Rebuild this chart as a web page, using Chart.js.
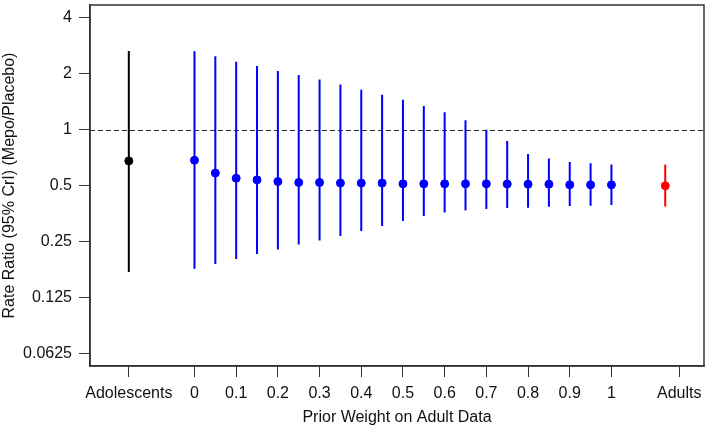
<!DOCTYPE html>
<html>
<head>
<meta charset="utf-8">
<script src="https://cdn.jsdelivr.net/npm/chart.js@4"></script>
<style>
  html, body { margin: 0; padding: 0; background: #fff; }
  #wrap { width: 709px; height: 427px; }
</style>
</head>
<body>
<div id="wrap"><canvas id="chart" width="709" height="427"></canvas></div>
<script>
// data
const weights = [0, 0.05, 0.1, 0.15, 0.2, 0.25, 0.3, 0.35, 0.4, 0.45, 0.5,
                 0.55, 0.6, 0.65, 0.7, 0.75, 0.8, 0.85, 0.9, 0.95, 1];
const blueMed = [0.686, 0.585, 0.549, 0.538, 0.527, 0.521, 0.521, 0.517, 0.517, 0.517, 0.512,
                 0.512, 0.512, 0.512, 0.512, 0.511, 0.51, 0.51, 0.506, 0.506, 0.506];
const blueLo = [0.179, 0.190, 0.202, 0.215, 0.227, 0.242, 0.254, 0.269, 0.286, 0.304, 0.323,
                0.344, 0.359, 0.368, 0.375, 0.380, 0.381, 0.386, 0.389, 0.390, 0.394];
const blueHi = [2.64, 2.48, 2.32, 2.20, 2.07, 1.97, 1.86, 1.75, 1.64, 1.54, 1.45,
                1.34, 1.24, 1.125, 1.0, 0.87, 0.74, 0.70, 0.672, 0.66, 0.65];

const adolX = -0.1575, adolMed = 0.68, adolLo = 0.172, adolHi = 2.65;
const adultX = 1.129, adultMed = 0.50, adultLo = 0.387, adultHi = 0.65;

const xTickVals = [-0.1575, 0, 0.1, 0.2, 0.3, 0.4, 0.5, 0.6, 0.7, 0.8, 0.9, 1, 1.1625];
const xTickLabels = ['Adolescents', '0', '0.1', '0.2', '0.3', '0.4', '0.5', '0.6', '0.7', '0.8', '0.9', '1', 'Adults'];
const yTickVals = [0.0625, 0.125, 0.25, 0.5, 1, 2, 4];
const yTickLabels = ['0.0625', '0.125', '0.25', '0.5', '1', '2', '4'];

// vertical interval segments, broken by null points
function segments(xs, los, his) {
    const out = [];
    xs.forEach((x, i) => {
        out.push({ x: x, y: los[i] }, { x: x, y: his[i] }, { x: x, y: null });
    });
    return out;
}

const axisColor = '#333';
const font = { family: 'Liberation Sans, Arial, sans-serif', size: 16 };

// box around the plot + dashed line at 1
const extras = {
    id: 'extras',
    beforeDatasetsDraw(chart) {
        const { ctx, chartArea: a, scales } = chart;
        const y1 = scales.y.getPixelForValue(1);
        ctx.save();
        ctx.strokeStyle = '#333';
        ctx.lineWidth = 1;
        ctx.setLineDash([5, 3]);
        ctx.beginPath();
        ctx.moveTo(a.left, Math.round(y1) + 0.5);
        ctx.lineTo(a.right, Math.round(y1) + 0.5);
        ctx.stroke();
        ctx.restore();
    },
    afterDraw(chart) {
        const { ctx, chartArea: a } = chart;
        ctx.save();
        ctx.strokeStyle = axisColor;
        ctx.lineWidth = 1.5;
        ctx.strokeRect(a.left, a.top, a.right - a.left, a.bottom - a.top);
        ctx.restore();
    }
};

new Chart(document.getElementById('chart'), {
    type: 'scatter',
    data: {
        datasets: [
            {
                type: 'line',
                data: segments([adolX], [adolLo], [adolHi]),
                borderColor: '#000', borderWidth: 2, pointRadius: 0, spanGaps: false
            },
            {
                type: 'line',
                data: segments(weights, blueLo, blueHi),
                borderColor: '#0000ff', borderWidth: 2, pointRadius: 0, spanGaps: false
            },
            {
                type: 'line',
                data: segments([adultX], [adultLo], [adultHi]),
                borderColor: '#ff0000', borderWidth: 2, pointRadius: 0, spanGaps: false
            },
            {
                data: [{ x: adolX, y: adolMed }],
                backgroundColor: '#000', borderColor: '#000', pointRadius: 4
            },
            {
                data: weights.map((w, i) => ({ x: w, y: blueMed[i] })),
                backgroundColor: '#0000ff', borderColor: '#0000ff', pointRadius: 4
            },
            {
                data: [{ x: adultX, y: adultMed }],
                backgroundColor: '#ff0000', borderColor: '#ff0000', pointRadius: 4
            }
        ]
    },
    options: {
        responsive: false,
        animation: false,
        layout: { padding: { top: 1, right: 2, left: 0, bottom: 0 } },
        plugins: { legend: { display: false }, tooltip: { enabled: false } },
        scales: {
            x: {
                type: 'linear',
                min: -0.2506,
                max: 1.222,
                afterBuildTicks: (s) => { s.ticks = xTickVals.map(v => ({ value: v })); },
                afterFit: (s) => { s.height = 61; s.paddingLeft = 0; s.paddingRight = 0; },
                grid: { drawOnChartArea: false, tickLength: 11, color: axisColor },
                border: { display: true, color: axisColor, width: 1.5 },
                ticks: {
                    autoSkip: false, maxRotation: 0, padding: 7, color: '#111', font: font,
                    callback: (v, i) => xTickLabels[i]
                },
                title: { display: true, text: 'Prior Weight on Adult Data', color: '#111', font: font, padding: { top: 0, bottom: 0 } }
            },
            y: {
                type: 'logarithmic',
                min: 0.0538,
                max: 4.68,
                afterBuildTicks: (s) => { s.ticks = yTickVals.map(v => ({ value: v })); },
                afterFit: (s) => { s.width = 90; s.paddingTop = 0; s.paddingBottom = 0; },
                grid: { drawOnChartArea: false, tickLength: 11, color: axisColor },
                border: { display: true, color: axisColor, width: 1.5 },
                ticks: {
                    autoSkip: false, padding: 7, color: '#111', font: font,
                    callback: (v, i) => yTickLabels[i]
                },
                title: { display: true, text: 'Rate Ratio (95% CrI) (Mepo/Placebo)', color: '#111', font: font, padding: { top: 0, bottom: 0 } }
            }
        }
    },
    plugins: [extras]
});
</script>
</body>
</html>
